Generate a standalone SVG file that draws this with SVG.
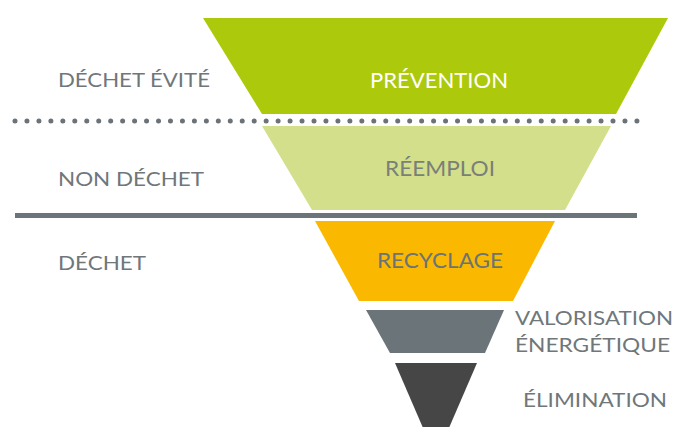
<svg xmlns="http://www.w3.org/2000/svg" width="675" height="427" viewBox="0 0 675 427">
<style>
.lbl{font-family:"Lato","Open Sans","Liberation Sans",sans-serif;font-size:19.5px;fill:#6f777b;}
.in{font-family:"Lato","Open Sans","Liberation Sans",sans-serif;font-size:20.5px;text-anchor:middle;}
</style>
<rect width="675" height="427" fill="#ffffff"/>
<g id="prevention">
<polygon points="203,18 668,18 616,114 262,114" fill="#adc90b"/>
<text class="in" x="439" y="88" fill="#ffffff" textLength="138" lengthAdjust="spacingAndGlyphs">PRÉVENTION</text>
</g>
<g id="reemploi">
<polygon points="262,126 611,126 565,210 312,210" fill="#d3df8b"/>
<text class="in" x="440" y="176" fill="#7a7f79" textLength="110" lengthAdjust="spacingAndGlyphs">RÉEMPLOI</text>
</g>
<g id="recyclage">
<polygon points="315,221 555,221 513,301 359,301" fill="#fab900"/>
<text class="in" x="440" y="268" fill="#6b7377" textLength="126" lengthAdjust="spacingAndGlyphs">RECYCLAGE</text>
</g>
<g id="valorisation">
<polygon points="366,310 504,310 485,353 390,353" fill="#6b7479"/>
<text class="lbl" x="515" y="325" textLength="158" lengthAdjust="spacingAndGlyphs">VALORISATION</text>
<text class="lbl" x="515" y="352" textLength="155" lengthAdjust="spacingAndGlyphs">ÉNERGÉTIQUE</text>
</g>
<g id="elimination">
<polygon points="395,363 477,363 436,458" fill="#464646"/>
<text class="lbl" x="523" y="407" textLength="144" lengthAdjust="spacingAndGlyphs">ÉLIMINATION</text>
</g>
<g id="labels">
<text class="lbl" x="58" y="87" textLength="152" lengthAdjust="spacingAndGlyphs">DÉCHET ÉVITÉ</text>
<text class="lbl" x="58" y="186" textLength="146" lengthAdjust="spacingAndGlyphs">NON DÉCHET</text>
<text class="lbl" x="58" y="270" textLength="88" lengthAdjust="spacingAndGlyphs">DÉCHET</text>
</g>
<g id="connectors">
<line x1="15" y1="121" x2="637" y2="121" stroke="#6b7378" stroke-width="5" stroke-linecap="round" stroke-dasharray="0 11.96"/>
<line x1="15" y1="215.5" x2="637" y2="215.5" stroke="#6b7479" stroke-width="5"/>
</g>
</svg>
